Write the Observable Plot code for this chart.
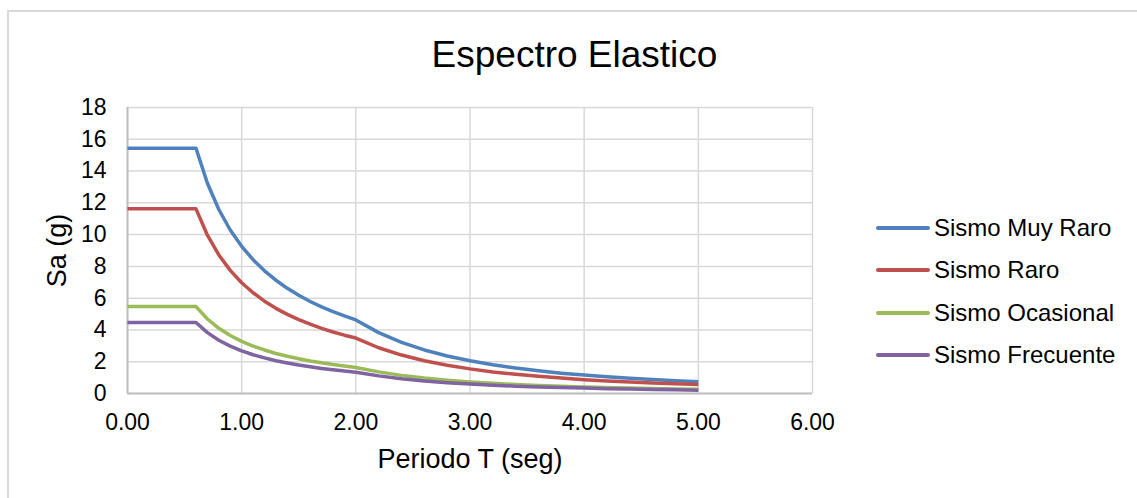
<!DOCTYPE html>
<html>
<head>
<meta charset="utf-8">
<script src="https://cdn.jsdelivr.net/npm/d3@7"></script>
<script src="https://cdn.jsdelivr.net/npm/@observablehq/plot@0.6"></script>
<style>
  html, body { margin: 0; padding: 0; background: #fff; }
  body { width: 1137px; height: 498px; position: relative; overflow: hidden; font-family: "Liberation Sans", Arial, sans-serif; }
  #frame { position: absolute; left: 7px; top: 10px; width: 1200px; height: 600px; border-top: 2px solid #d9d9d9; border-left: 2px solid #d9d9d9; box-sizing: border-box; }
  #title { position: absolute; left: 0; width: 1149px; top: 36px; line-height: 1; text-align: center; font-size: 37px; color: #000; white-space: nowrap; }
  #chart { position: absolute; left: 0; top: 0; }
  .leg { position: absolute; left: 876px; height: 30px; display: flex; align-items: center; font-size: 24px; color: #000; white-space: nowrap; }
  .leg .sw { width: 54px; height: 4px; border-radius: 2px; margin-right: 4px; }
</style>
</head>
<body>
<div id="frame"></div>
<div id="chart"></div>
<div id="title">Espectro Elastico</div>
<div id="legend"></div>
<script>
// Periodo T (seg)
const periods = [0, 0.6, 0.7, 0.8, 0.9, 1.0, 1.1, 1.2, 1.3, 1.4, 1.5, 1.6, 1.7, 1.8, 1.9, 2.0,
  2.2, 2.4, 2.6, 2.8, 3.0, 3.2, 3.4, 3.6, 3.8, 4.0, 4.2, 4.4, 4.6, 4.8, 5.0];

const sismoMuyRaro = [15.44, 15.44, 13.23, 11.58, 10.29, 9.26, 8.42, 7.72, 7.13, 6.62, 6.18, 5.79, 5.45, 5.15, 4.88, 4.63,
  3.83, 3.22, 2.74, 2.36, 2.06, 1.81, 1.60, 1.43, 1.28, 1.16, 1.05, 0.96, 0.88, 0.80, 0.74];
const sismoRaro = [11.62, 11.62, 9.96, 8.72, 7.75, 6.97, 6.34, 5.81, 5.36, 4.98, 4.65, 4.36, 4.10, 3.87, 3.67, 3.49,
  2.88, 2.42, 2.06, 1.78, 1.55, 1.36, 1.21, 1.08, 0.97, 0.87, 0.79, 0.72, 0.66, 0.61, 0.56];
const sismoOcasional = [5.47, 5.47, 4.69, 4.10, 3.65, 3.28, 2.98, 2.74, 2.52, 2.34, 2.19, 2.05, 1.93, 1.82, 1.73, 1.64,
  1.36, 1.14, 0.97, 0.84, 0.73, 0.64, 0.57, 0.51, 0.45, 0.41, 0.37, 0.34, 0.31, 0.28, 0.26];
const sismoFrecuente = [4.47, 4.47, 3.83, 3.35, 2.98, 2.68, 2.44, 2.24, 2.06, 1.92, 1.79, 1.68, 1.58, 1.49, 1.41, 1.34,
  1.11, 0.93, 0.79, 0.68, 0.60, 0.52, 0.46, 0.41, 0.37, 0.34, 0.30, 0.28, 0.25, 0.23, 0.21];

const seriesNames = ["Sismo Muy Raro", "Sismo Raro", "Sismo Ocasional", "Sismo Frecuente"];
const seriesColors = ["#4f81bd", "#c0504d", "#9bbb59", "#8064a2"];
const seriesValues = [sismoMuyRaro, sismoRaro, sismoOcasional, sismoFrecuente];

const xTicks = [0, 1, 2, 3, 4, 5, 6];
const yTicks = [0, 2, 4, 6, 8, 10, 12, 14, 16, 18];

const data = [];
seriesNames.forEach((name, i) => {
  periods.forEach((t, j) => data.push({serie: name, T: t, Sa: seriesValues[i][j]}));
});

const font = "Liberation Sans, Arial, sans-serif";

const chart = Plot.plot({
  width: 1137,
  height: 498,
  marginLeft: 127,
  marginRight: 325,
  marginTop: 107,
  marginBottom: 105,
  style: {fontFamily: font, background: "transparent", color: "#000", overflow: "visible"},
  x: {domain: [0, 6], ticks: xTicks},
  y: {domain: [0, 18], ticks: yTicks},
  color: {domain: seriesNames, range: seriesColors},
  marks: [
    Plot.gridX(xTicks, {stroke: "#d9d9d9", strokeOpacity: 1, strokeWidth: 1.5}),
    Plot.gridY(yTicks, {stroke: "#d9d9d9", strokeOpacity: 1, strokeWidth: 1.5}),
    Plot.ruleY([0], {stroke: "#bfbfbf", strokeWidth: 2}),
    Plot.ruleX([0], {stroke: "#bfbfbf", strokeWidth: 2}),
    Plot.axisX(xTicks, {tickSize: 0, tickPadding: 20, fontSize: 23, tickFormat: d3.format(".2f"), label: null, fill: "#000"}),
    Plot.axisY(yTicks, {tickSize: 0, tickPadding: 21, fontSize: 23, label: null, fill: "#000"}),
    Plot.line(data, {x: "T", y: "Sa", z: "serie", stroke: "serie", strokeWidth: 3.5, strokeLinejoin: "round", strokeLinecap: "butt"}),
    Plot.text(["Periodo T (seg)"], {frameAnchor: "bottom", dy: 66, fontSize: 27, lineAnchor: "middle", textAnchor: "middle", fill: "#000"}),
    Plot.text(["Sa (g)"], {frameAnchor: "left", dx: -70, rotate: -90, fontSize: 27, lineAnchor: "middle", textAnchor: "middle", fill: "#000"})
  ]
});
document.getElementById("chart").appendChild(chart);

const legend = document.getElementById("legend");
const legendTops = [228, 270, 313, 355];
seriesNames.forEach((name, i) => {
  const row = document.createElement("div");
  row.className = "leg";
  row.style.top = (legendTops[i] - 15) + "px";
  const sw = document.createElement("div");
  sw.className = "sw";
  sw.style.background = seriesColors[i];
  const label = document.createElement("span");
  label.textContent = name;
  row.appendChild(sw);
  row.appendChild(label);
  legend.appendChild(row);
});
</script>
</body>
</html>
